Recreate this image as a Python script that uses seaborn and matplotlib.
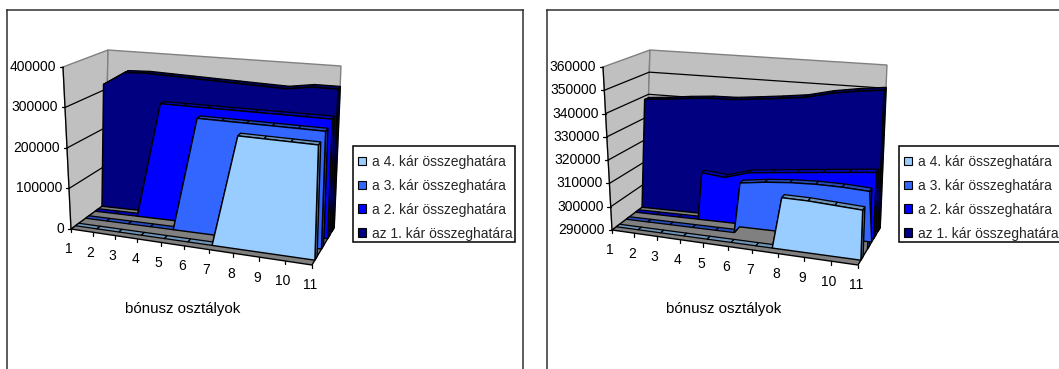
import numpy as np
import matplotlib
matplotlib.use("Agg")
import matplotlib.pyplot as plt
from matplotlib.patches import Patch, Rectangle
import seaborn as sns

categories = [1, 2, 3, 4, 5, 6, 7, 8, 9, 10, 11]
series_names = ["a 4. kár összeghatára", "a 3. kár összeghatára",
                "a 2. kár összeghatára", "az 1. kár összeghatára"]
axis_title = "bónusz osztályok"

# left chart, full value scale
left_ticks = [0, 100000, 200000, 300000, 400000]
left_limit_4 = [0, 0, 0, 0, 0, 0, 0, 270000, 270000, 270000, 270000]
left_limit_3 = [0, 0, 0, 0, 0, 281000, 281000, 281000, 281000, 281000, 281000]
left_limit_2 = [0, 0, 0, 290000, 290000, 290000, 290000, 290000, 290000, 290000, 290000]
left_limit_1 = [315000, 350000, 352000, 350000, 348000, 346000, 344000, 342000, 340000, 349000, 349000]

# right chart, value axis cut at 290000
right_ticks = [290000, 300000, 310000, 320000, 330000, 340000, 350000, 360000]
right_limit_4 = [0, 0, 0, 0, 0, 0, 250000, 311500, 311500, 311000, 310500]
right_limit_3 = [0, 0, 0, 0, 215000, 311500, 313000, 314000, 314500, 314500, 314000]
right_limit_2 = [0, 0, 150000, 310500, 309500, 312500, 313600, 314700, 315800, 316900, 318000]
right_limit_1 = [338500, 339300, 340400, 341200, 341400, 342400, 343500, 344800, 347300, 349000, 350300]

palette = sns.color_palette(["#99CCFF", "#3366FF", "#0000FF", "#000080"])
WALL = "#C0C0C0"
FLOOR = "#808080"
FONT = "Liberation Sans"
BAND_FRONTS = [0.13, 0.43, 0.71, 0.91]
BAND_DEPTH = 0.10
PERSPECTIVE = 0.887

sns.set_style("white")
plt.rcParams["font.family"] = FONT

W, H = 1059, 369
fig = plt.figure(figsize=(W / 100, H / 100), dpi=100, facecolor="white")


class Box:
    """Trilinear projection of the unit cube (u across, v up, w into the page)."""

    def __init__(self, fbl, fbr, bbl, bbr, ftl, ftr, btl, btr, vmin, vmax):
        self.c = {k: np.array(p, float) for k, p in dict(
            fbl=fbl, fbr=fbr, bbl=bbl, bbr=bbr, ftl=ftl, ftr=ftr, btl=btl, btr=btr).items()}
        self.vmin, self.vmax = vmin, vmax

    def project(self, cat, val, w):
        cat, val, w = np.broadcast_arrays(np.asarray(cat, float), np.asarray(val, float), np.asarray(w, float))
        u = (cat - 1) / 10
        # categories spread out towards the nearer right-hand corner
        u = PERSPECTIVE * u / (1 + (PERSPECTIVE - 1) * u)
        v = (val - self.vmin) / (self.vmax - self.vmin)
        c = self.c
        pts = []
        for axis in (0, 1):
            front = (c["fbl"][axis] * (1 - u) + c["fbr"][axis] * u) * (1 - v) + (c["ftl"][axis] * (1 - u) + c["ftr"][axis] * u) * v
            back = (c["bbl"][axis] * (1 - u) + c["bbr"][axis] * u) * (1 - v) + (c["btl"][axis] * (1 - u) + c["btr"][axis] * u) * v
            pts.append(front * (1 - w) + back * w)
        return np.column_stack(pts)


def clipped_profile(values, vmin):
    """Cut a series at the bottom of the value axis, keeping the crossing points."""
    cats, vals = [], []
    for i, val in enumerate(values):
        if i:
            prev = values[i - 1]
            if (prev - vmin) * (val - vmin) < 0:
                cats.append(categories[i - 1] + (vmin - prev) / (val - prev))
                vals.append(vmin)
        cats.append(categories[i])
        vals.append(max(val, vmin))
    return np.array(cats), np.array(vals)


def shade(colour, factor):
    return tuple(np.array(matplotlib.colors.to_rgb(colour)) * factor)


def polygon(ax, pts, face, edge="black", lw=0.8, zorder=1):
    ax.fill(pts[:, 0], pts[:, 1], facecolor=face, edgecolor=edge, linewidth=lw,
            joinstyle="miter", zorder=zorder)


def guide(ax, pts, colour="black", lw=0.9, zorder=0.5):
    sns.lineplot(x=pts[:, 0], y=pts[:, 1], sort=False, estimator=None, ax=ax,
                 color=colour, linewidth=lw, zorder=zorder, legend=False)


def draw_panel(origin, size, box, ticks, series, face_bases, legend_xy, title_xy):
    ox, oy = origin
    pw, ph = size
    ax = fig.add_axes([ox / W, 1 - (oy + ph) / H, pw / W, ph / H])
    ax.set_xlim(ox, ox + pw)
    ax.set_ylim(oy + ph, oy)
    ax.autoscale(False)
    ax.set_xticks([])
    ax.set_yticks([])
    for spine in ax.spines.values():
        spine.set_color("#303030")
        spine.set_linewidth(1.1)
    first, last = categories[0], categories[-1]
    lo, hi = box.vmin, box.vmax

    # walls and floor
    side = box.project([first, first, first, first], [lo, hi, hi, lo], [0, 0, 1, 1])
    back = box.project([first, first, last, last], [lo, hi, hi, lo], [1, 1, 1, 1])
    floor = box.project([first, last, last, first], [lo, lo, lo, lo], [0, 0, 1, 1])
    polygon(ax, side, WALL, edge=FLOOR, lw=1.0, zorder=0.1)
    polygon(ax, back, WALL, edge=FLOOR, lw=1.0, zorder=0.1)
    polygon(ax, floor, FLOOR, edge="black", lw=1.0, zorder=0.2)

    # value gridlines along both walls, with their ticks and labels
    for t in ticks:
        path = box.project([first, first, last], [t, t, t], [0, 1, 1])
        if lo < t < hi:
            guide(ax, path)
        start = box.project(first, t, 0)[0]
        guide(ax, np.array([start + [-3.5, 0], start]), zorder=0.6)
        ax.text(start[0] - 7, start[1], str(t), ha="right", va="center",
                fontsize=10, color="black")
    guide(ax, box.project([first, first], [lo, hi], [0, 0]), zorder=0.6)

    # category ticks and labels along the front edge
    for cat in categories:
        base = box.project(cat, lo, 0)[0]
        guide(ax, np.array([base, base + [0, 3.5]]), zorder=0.6)
        ax.text(base[0] - 2, base[1] + 20.5, str(cat), ha="center", va="center",
                fontsize=10, color="black")
    ax.text(*title_xy, axis_title, ha="center", va="center", fontsize=10.8, color="black")

    # series bands, rearmost first
    for k in range(3, -1, -1):
        cats, vals = clipped_profile(series[k], lo)
        wf, wb = BAND_FRONTS[k], BAND_FRONTS[k] + BAND_DEPTH
        colour = palette[k]
        # end cap seen at the right-hand side
        cap = box.project([last, last, last, last], [lo, vals[-1], vals[-1], lo], [wf, wf, wb, wb])
        polygon(ax, cap, shade(colour, 0.6), lw=1.0)
        # upper surface, one quad per segment
        for i in range(len(cats) - 1):
            quad = box.project([cats[i], cats[i + 1], cats[i + 1], cats[i]],
                               [vals[i], vals[i + 1], vals[i + 1], vals[i]],
                               [wf, wf, wb, wb])
            polygon(ax, quad, shade(colour, 0.72), lw=0.9)
        # front face, only where the series rises off the floor
        raised = vals > lo
        if raised.any():
            start = max(np.argmax(raised) - 1, 0)
            c = cats[start:]
            v = vals[start:]
            outline = np.vstack([box.project(c, v, wf),
                                 box.project(c[::-1], np.full(len(c), lo), face_bases[k])])
            polygon(ax, outline, colour, lw=1.0)

    # legend box, left open where it runs past the page edge
    lx, ly = legend_xy
    ax.add_patch(Rectangle((lx, ly), 162, 96, facecolor="white", edgecolor="black",
                           linewidth=1.1, zorder=4))
    handles = [Patch(facecolor=palette[i], edgecolor="black", linewidth=0.8, label=series_names[i])
               for i in range(4)]
    leg = ax.legend(handles=handles, loc="upper left", bbox_to_anchor=(lx + 5, ly + 9),
                    bbox_transform=ax.transData, fontsize=10, frameon=False,
                    handlelength=0.58, handleheight=0.58, handletextpad=0.43,
                    labelspacing=0.71, borderpad=0, borderaxespad=0)
    leg.set_zorder(5)


draw_panel((7, 10), (516, 380),
           Box((71, 229), (312, 265), (105, 204), (334, 228),
               (63, 67), (317, 93), (108, 50), (341, 66), 0, 400000),
           left_ticks, [left_limit_4, left_limit_3, left_limit_2, left_limit_1],
           BAND_FRONTS, (353, 146), (183, 309))
draw_panel((547, 10), (530, 380),
           Box((612, 230), (858, 265), (645, 205), (880, 228),
               (603, 67), (864, 93), (650, 50), (887, 65), 290000, 360000),
           right_ticks, [right_limit_4, right_limit_3, right_limit_2, right_limit_1],
           [0.13, 0.62, 0.71, 0.91], (899, 146), (724, 309))

fig.savefig("out.png", dpi=100)
